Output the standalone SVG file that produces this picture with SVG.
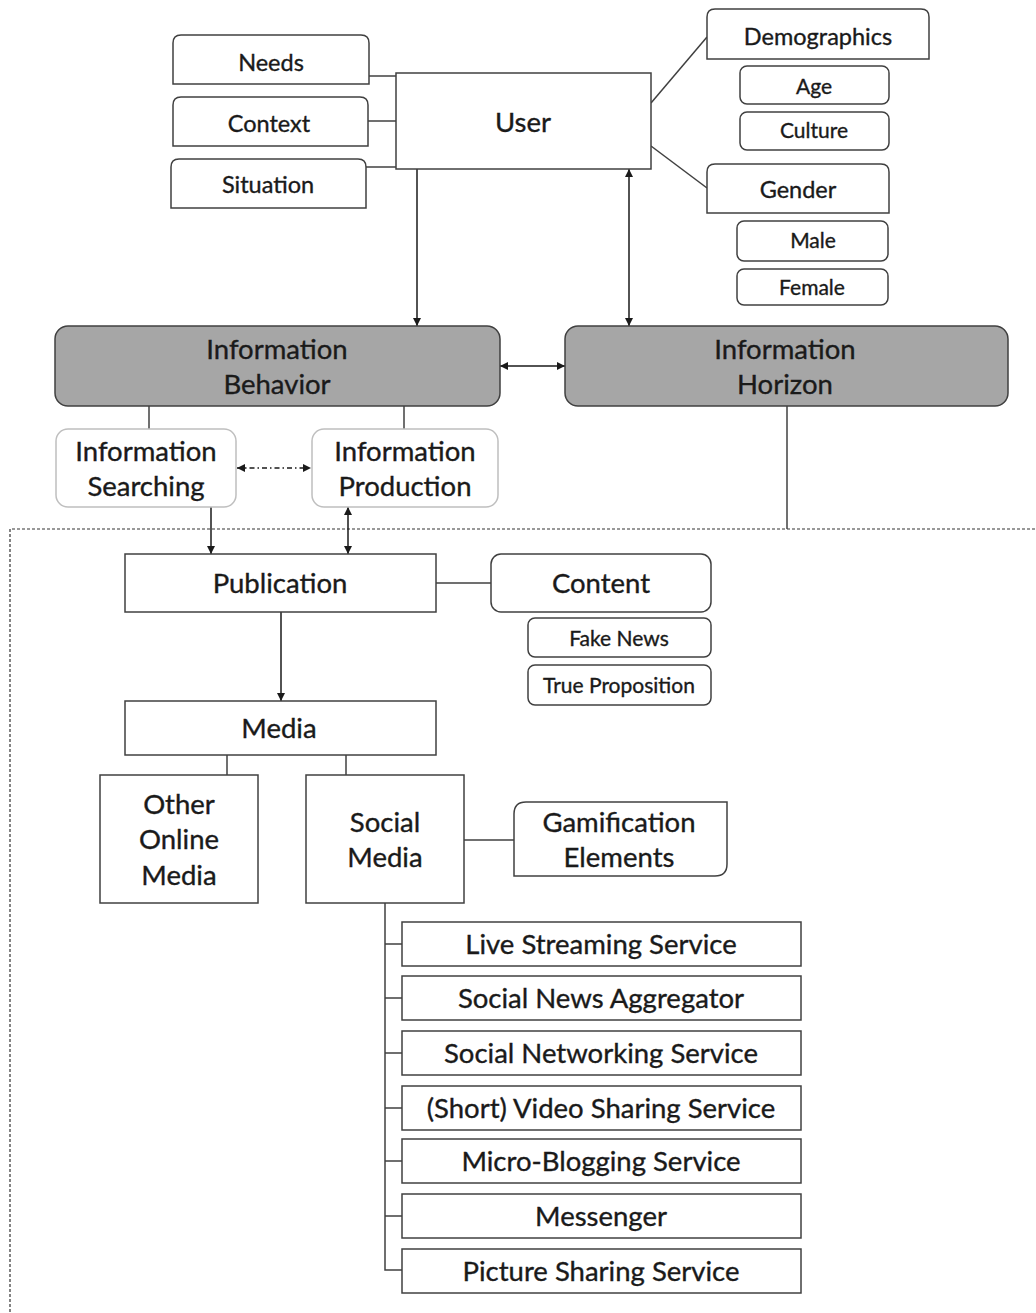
<svg xmlns="http://www.w3.org/2000/svg" width="1036" height="1313" viewBox="0 0 1036 1313">
  <style>
    .box { fill: #ffffff; stroke: #404040; stroke-width: 1.5; }
    .soft { fill: #ffffff; stroke: #bfbfbf; stroke-width: 1.5; }
    .dark { fill: #a6a6a6; stroke: #404040; stroke-width: 1.5; }
    .ln { fill: none; stroke: #404040; stroke-width: 1.5; }
    .arr { fill: none; stroke: #1a1a1a; stroke-width: 1.5; }
    text { font-family: Lato, "Liberation Sans", sans-serif; fill: #1a1a1a; stroke: #1a1a1a; stroke-width: 0.35; text-anchor: middle; dominant-baseline: central; }
    .t21 { font-size: 21px; }
    .t23 { font-size: 23.5px; }
    .t28 { font-size: 27.5px; }
  </style>
  <defs>
    <marker id="head" viewBox="0 0 10 10" refX="10" refY="5" markerWidth="8" markerHeight="8" markerUnits="userSpaceOnUse" orient="auto-start-reverse">
      <path d="M0,0 L10,5 L0,10 Z" fill="#1a1a1a"/>
    </marker>
  </defs>

  <!-- boundary of the media area -->
  <path d="M1040,529 H10 V1320" fill="none" stroke="#333333" stroke-width="1.2" stroke-dasharray="3 2"/>

  <!-- connectors -->
  <g id="connectors">
    <line class="ln" x1="369" y1="76" x2="396" y2="76"/>
    <line class="ln" x1="368" y1="121" x2="396" y2="121"/>
    <line class="ln" x1="366" y1="167" x2="396" y2="167"/>
    <line class="ln" x1="651" y1="103" x2="707" y2="37"/>
    <line class="ln" x1="651" y1="146" x2="707" y2="188"/>
    <line class="arr" x1="417" y1="169" x2="417" y2="326" marker-end="url(#head)"/>
    <line class="arr" x1="629" y1="169" x2="629" y2="326" marker-start="url(#head)" marker-end="url(#head)"/>
    <line class="arr" x1="500" y1="366" x2="565" y2="366" marker-start="url(#head)" marker-end="url(#head)"/>
    <line class="ln" x1="149" y1="406" x2="149" y2="429"/>
    <line class="ln" x1="404" y1="406" x2="404" y2="429"/>
    <line class="arr" x1="237" y1="468" x2="311" y2="468" stroke-dasharray="5 3 1.5 3" marker-start="url(#head)" marker-end="url(#head)"/>
    <line class="ln" x1="787" y1="406" x2="787" y2="529"/>
    <line class="arr" x1="211" y1="507" x2="211" y2="554" marker-end="url(#head)"/>
    <line class="arr" x1="348" y1="507" x2="348" y2="554" marker-start="url(#head)" marker-end="url(#head)"/>
    <line class="ln" x1="436" y1="583" x2="491" y2="583"/>
    <line class="arr" x1="281" y1="612" x2="281" y2="701" marker-end="url(#head)"/>
    <line class="ln" x1="227" y1="755" x2="227" y2="775"/>
    <line class="ln" x1="346" y1="755" x2="346" y2="775"/>
    <line class="ln" x1="464" y1="840" x2="514" y2="840"/>
    <path class="ln" d="M385,903 V1270 H402 M385,944 H402 M385,998 H402 M385,1053 H402 M385,1108 H402 M385,1161 H402 M385,1216 H402"/>
  </g>

  <!-- user and its attributes -->
  <g id="needs">
    <path class="box" d="M173,84 V43 Q173,35 181,35 H361 Q369,35 369,43 V84 Z"/>
    <text class="t23" x="271" y="62">Needs</text>
  </g>
  <g id="context">
    <path class="box" d="M173,146 V105 Q173,97 181,97 H360 Q368,97 368,105 V146 Z"/>
    <text class="t23" x="269" y="123">Context</text>
  </g>
  <g id="situation">
    <path class="box" d="M171,208 V167 Q171,159 179,159 H358 Q366,159 366,167 V208 Z"/>
    <text class="t23" x="268" y="184">Situation</text>
  </g>
  <g id="user">
    <rect class="box" x="396" y="73" width="255" height="96"/>
    <text class="t28" x="523" y="121">User</text>
  </g>
  <g id="demographics">
    <path class="box" d="M707,59 V17 Q707,9 715,9 H921 Q929,9 929,17 V59 Z"/>
    <text class="t23" x="818" y="36">Demographics</text>
  </g>
  <g id="age">
    <rect class="box" x="740" y="66" width="149" height="38" rx="7"/>
    <text class="t21" x="814" y="85">Age</text>
  </g>
  <g id="culture">
    <rect class="box" x="740" y="112" width="149" height="38" rx="7"/>
    <text class="t21" x="814" y="129">Culture</text>
  </g>
  <g id="gender">
    <path class="box" d="M707,213 V172 Q707,164 715,164 H881 Q889,164 889,172 V213 Z"/>
    <text class="t23" x="798" y="189">Gender</text>
  </g>
  <g id="male">
    <rect class="box" x="737" y="221" width="151" height="40" rx="7"/>
    <text class="t21" x="813" y="239">Male</text>
  </g>
  <g id="female">
    <rect class="box" x="737" y="269" width="151" height="36" rx="7"/>
    <text class="t21" x="812" y="286">Female</text>
  </g>

  <!-- behaviour and horizon -->
  <g id="information-behavior">
    <rect class="dark" x="55" y="326" width="445" height="80" rx="13"/>
    <text class="t28" x="277" y="348">Information</text>
    <text class="t28" x="277" y="383">Behavior</text>
  </g>
  <g id="information-horizon">
    <rect class="dark" x="565" y="326" width="443" height="80" rx="13"/>
    <text class="t28" x="785" y="348">Information</text>
    <text class="t28" x="785" y="383">Horizon</text>
  </g>
  <g id="information-searching">
    <rect class="soft" x="56" y="429" width="180" height="78" rx="12"/>
    <text class="t28" x="146" y="450">Information</text>
    <text class="t28" x="146" y="485">Searching</text>
  </g>
  <g id="information-production">
    <rect class="soft" x="312" y="429" width="186" height="78" rx="12"/>
    <text class="t28" x="405" y="450">Information</text>
    <text class="t28" x="405" y="485">Production</text>
  </g>

  <!-- publication and content -->
  <g id="publication">
    <rect class="box" x="125" y="554" width="311" height="58"/>
    <text class="t28" x="280" y="582">Publication</text>
  </g>
  <g id="content">
    <rect class="box" x="491" y="554" width="220" height="58" rx="10"/>
    <text class="t28" x="601" y="582">Content</text>
  </g>
  <g id="fake-news">
    <rect class="box" x="528" y="618" width="183" height="39" rx="7"/>
    <text class="t21" x="619" y="637">Fake News</text>
  </g>
  <g id="true-proposition">
    <rect class="box" x="528" y="665" width="183" height="40" rx="7"/>
    <text class="t21" x="619" y="684">True Proposition</text>
  </g>

  <!-- media -->
  <g id="media">
    <rect class="box" x="125" y="701" width="311" height="54"/>
    <text class="t28" x="279" y="727">Media</text>
  </g>
  <g id="other-online-media">
    <rect class="box" x="100" y="775" width="158" height="128"/>
    <text class="t28" x="179" y="803">Other</text>
    <text class="t28" x="179" y="838">Online</text>
    <text class="t28" x="179" y="874">Media</text>
  </g>
  <g id="social-media">
    <rect class="box" x="306" y="775" width="158" height="128"/>
    <text class="t28" x="385" y="821">Social</text>
    <text class="t28" x="385" y="856">Media</text>
  </g>
  <g id="gamification-elements">
    <path class="box" d="M514,876 V814 Q514,802 526,802 H727 V864 Q727,876 715,876 Z"/>
    <text class="t28" x="619" y="821">Gamification</text>
    <text class="t28" x="619" y="856">Elements</text>
  </g>

  <!-- social media services -->
  <g id="live-streaming-service">
    <rect class="box" x="402" y="922" width="399" height="44"/>
    <text class="t28" x="601" y="943">Live Streaming Service</text>
  </g>
  <g id="social-news-aggregator">
    <rect class="box" x="402" y="976" width="399" height="44"/>
    <text class="t28" x="601" y="997">Social News Aggregator</text>
  </g>
  <g id="social-networking-service">
    <rect class="box" x="402" y="1031" width="399" height="44"/>
    <text class="t28" x="601" y="1052">Social Networking Service</text>
  </g>
  <g id="video-sharing-service">
    <rect class="box" x="402" y="1086" width="399" height="44"/>
    <text class="t28" x="601" y="1107">(Short) Video Sharing Service</text>
  </g>
  <g id="micro-blogging-service">
    <rect class="box" x="402" y="1139" width="399" height="44"/>
    <text class="t28" x="601" y="1160">Micro-Blogging Service</text>
  </g>
  <g id="messenger">
    <rect class="box" x="402" y="1194" width="399" height="44"/>
    <text class="t28" x="601" y="1215">Messenger</text>
  </g>
  <g id="picture-sharing-service">
    <rect class="box" x="402" y="1249" width="399" height="44"/>
    <text class="t28" x="601" y="1270">Picture Sharing Service</text>
  </g>
</svg>
